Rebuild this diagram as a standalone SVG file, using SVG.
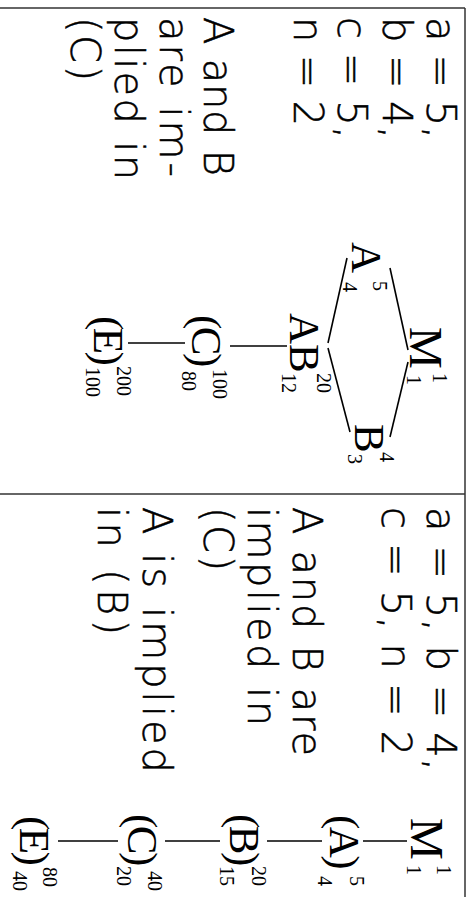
<svg xmlns="http://www.w3.org/2000/svg" width="474" height="897" viewBox="0 0 474 897">
<style>
.t{font-family:"DejaVu Sans","Liberation Sans",sans-serif;font-size:40px;font-weight:200;fill:#000;stroke:#000;stroke-width:0.5}
.n{font-family:"Liberation Serif","Times New Roman",serif;font-size:43px;fill:#000}
.m{font-size:47px}
.s{font-family:"Liberation Serif","Times New Roman",serif;font-size:20px;fill:#000}
.edge{stroke:#000;stroke-width:1.6;fill:none}
.border{stroke:#333;stroke-width:1.5;fill:none}
</style>
<rect width="474" height="897" fill="#fff"/>
<g transform="translate(474,0) rotate(90)">
  <g id="table">
    <line class="border" x1="8" y1="9" x2="897" y2="9"/>
    <line class="border" x1="8" y1="9" x2="8" y2="474"/>
    <line class="border" x1="494" y1="9" x2="494" y2="474"/>
  </g>
  <g id="left-text">
    <text class="t" x="17" y="47" textLength="122" lengthAdjust="spacing">a = 5,</text>
    <text class="t" x="17" y="91.5" textLength="122" lengthAdjust="spacing">b = 4,</text>
    <text class="t" x="17" y="136" textLength="122" lengthAdjust="spacing">c = 5,</text>
    <text class="t" x="17" y="180.5" textLength="109" lengthAdjust="spacing">n = 2</text>
    <text class="t" x="17" y="270" textLength="159" lengthAdjust="spacing">A and B</text>
    <text class="t" x="17" y="314.5" textLength="160" lengthAdjust="spacing">are im-</text>
    <text class="t" x="17" y="359" textLength="163" lengthAdjust="spacing">plied in</text>
    <text class="t" x="17" y="403" textLength="64" lengthAdjust="spacing">(C)</text>
  </g>
  <g id="right-text">
    <text class="t" x="507" y="47" textLength="264" lengthAdjust="spacing">a = 5, b = 4,</text>
    <text class="t" x="507" y="92" textLength="249" lengthAdjust="spacing">c = 5, n = 2</text>
    <text class="t" x="507" y="181" textLength="249" lengthAdjust="spacing">A and B are</text>
    <text class="t" x="507" y="226" textLength="219" lengthAdjust="spacing">implied in</text>
    <text class="t" x="507" y="270" textLength="64" lengthAdjust="spacing">(C)</text>
    <text class="t" x="507" y="331" textLength="266" lengthAdjust="spacing">A is implied</text>
    <text class="t" x="507" y="376" textLength="128" lengthAdjust="spacing">in (B)</text>
  </g>
  <g id="connectors">
    <line class="edge" x1="268" y1="84" x2="350" y2="66"/>
    <line class="edge" x1="362" y1="66" x2="437" y2="84"/>
    <line class="edge" x1="258" y1="127" x2="343" y2="146"/>
    <line class="edge" x1="348" y1="146" x2="432" y2="124"/>
    <line class="edge" x1="346" y1="187" x2="346" y2="244"/>
    <line class="edge" x1="343" y1="289" x2="343" y2="346"/>
    <line class="edge" x1="841" y1="67" x2="841" y2="111"/>
    <line class="edge" x1="841" y1="152" x2="841" y2="207"/>
    <line class="edge" x1="841" y1="254" x2="841" y2="309"/>
    <line class="edge" x1="841" y1="356" x2="841" y2="416"/>
  </g>
  <g id="L-M">
    <text class="n m" x="327" y="64">M</text>
    <text class="s" x="373" y="41">1</text>
    <text class="s" x="375" y="67">1</text>
  </g>
  <g id="L-A">
    <text class="n" x="242" y="122">A</text>
    <text class="s" x="281" y="101">5</text>
    <text class="s" x="282" y="131">4</text>
  </g>
  <g id="L-B">
    <text class="n" x="424" y="119">B</text>
    <text class="s" x="452" y="94">4</text>
    <text class="s" x="454" y="126">3</text>
  </g>
  <g id="L-AB">
    <text class="n" x="313" y="184">AB</text>
    <text class="s" x="373" y="157">20</text>
    <text class="s" x="373" y="192">12</text>
  </g>
  <g id="L-C">
    <text class="n" x="315" y="282" letter-spacing="-2.5">(C)</text>
    <text class="s" x="369" y="261">100</text>
    <text class="s" x="371" y="292">80</text>
  </g>
  <g id="L-E">
    <text class="n" x="316" y="380" letter-spacing="-2.5">(E)</text>
    <text class="s" x="366" y="357">200</text>
    <text class="s" x="367" y="388">100</text>
  </g>
  <g id="R-M">
    <text class="n m" x="818" y="63">M</text>
    <text class="s" x="865" y="37">1</text>
    <text class="s" x="865" y="67">1</text>
  </g>
  <g id="R-A">
    <text class="n" x="815" y="144" letter-spacing="-2.5">(A)</text>
    <text class="s" x="876" y="124">5</text>
    <text class="s" x="876" y="156">4</text>
  </g>
  <g id="R-B">
    <text class="n" x="814" y="244" letter-spacing="-2.5">(B)</text>
    <text class="s" x="866" y="222">20</text>
    <text class="s" x="866" y="254">15</text>
  </g>
  <g id="R-C">
    <text class="n" x="814" y="346" letter-spacing="-2.5">(C)</text>
    <text class="s" x="871" y="326">40</text>
    <text class="s" x="866" y="357">20</text>
  </g>
  <g id="R-E">
    <text class="n" x="816" y="454" letter-spacing="-2.5">(E)</text>
    <text class="s" x="867" y="431">80</text>
    <text class="s" x="871" y="461">40</text>
  </g>
</g>
</svg>
